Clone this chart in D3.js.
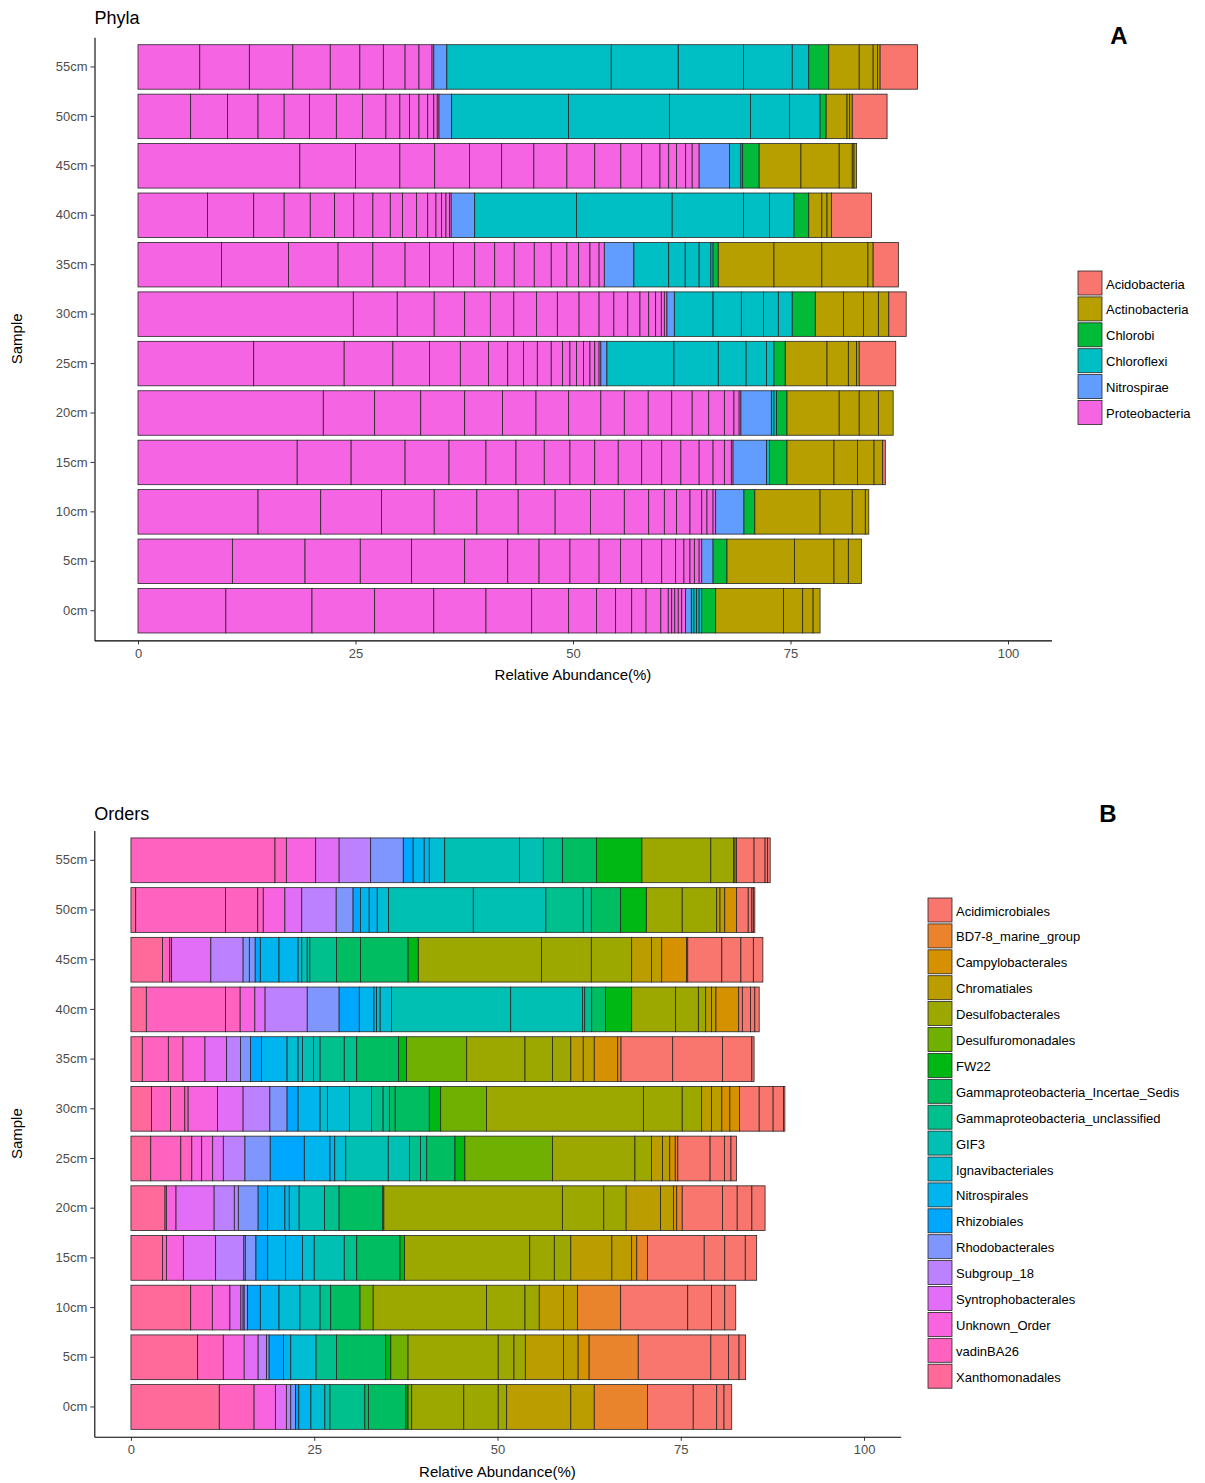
<!DOCTYPE html>
<html>
<head>
<meta charset="utf-8">
<script src="https://cdn.jsdelivr.net/npm/d3@7"></script>
<style>
  html, body { margin: 0; padding: 0; background: #fff; }
  svg { display: block; font-family: "Liberation Sans", Arial, sans-serif; }
</style>
</head>
<body>
<svg id="chart" width="1205" height="1483"></svg>
<script>
// ---------- shared categories ----------
const samples = ["0cm","5cm","10cm","15cm","20cm","25cm","30cm","35cm","40cm","45cm","50cm","55cm"];
const xTicks = [0, 25, 50, 75, 100];

// ---------- Panel A: phyla (each inner list = stacked sub-segments, % abundance) ----------
const phyla = ["Acidobacteria","Actinobacteria","Chlorobi","Chloroflexi","Nitrospirae","Proteobacteria"];

const proteobacteria = [
  [10.1, 9.9, 7.2, 6.8, 6.0, 5.25, 4.25, 3.2, 2.2, 1.85, 1.65, 1.7, 0.85, 0.4, 0.35, 0.4, 0.4, 0.45],
  [10.85, 8.35, 6.35, 5.9, 6.1, 4.95, 3.6, 3.55, 3.35, 2.45, 2.45, 2.3, 1.6, 0.95, 0.7, 0.5, 0.55, 0.3],
  [13.8, 7.2, 7.0, 6.05, 4.9, 4.75, 4.25, 4.05, 3.9, 2.8, 1.8, 1.4, 1.55, 1.35, 0.6, 0.7, 0.3],
  [18.3, 6.2, 6.2, 5.05, 4.25, 3.45, 3.25, 2.95, 2.85, 2.7, 2.7, 2.3, 2.2, 2.1, 1.6, 1.3, 0.8, 0.2],
  [21.3, 5.9, 5.3, 5.05, 4.35, 3.85, 3.75, 3.7, 2.7, 2.75, 2.7, 2.35, 1.9, 1.8, 1.1, 0.6, 0.2],
  [13.3, 10.4, 5.6, 4.2, 3.55, 3.25, 2.2, 1.8, 1.6, 1.6, 1.3, 0.85, 0.75, 0.8, 0.75, 0.55, 0.5, 0.2],
  [24.75, 5.05, 4.25, 3.5, 2.95, 2.7, 2.6, 2.4, 2.5, 2.3, 1.7, 1.6, 1.4, 1.0, 0.8, 0.65, 0.35, 0.3],
  [9.6, 7.7, 5.7, 4.0, 3.7, 2.8, 2.75, 2.45, 2.3, 2.25, 2.3, 1.95, 1.8, 1.35, 1.3, 1.05, 0.6],
  [8.0, 5.3, 3.5, 3.0, 2.8, 2.2, 2.2, 2.0, 1.4, 1.6, 1.3, 0.95, 0.65, 0.5, 0.4, 0.2],
  [18.6, 6.4, 5.1, 4.0, 4.0, 3.7, 3.7, 3.8, 3.2, 3.0, 2.4, 2.1, 1.0, 0.9, 1.05, 0.75, 0.8],
  [6.05, 4.25, 3.5, 3.0, 2.9, 3.1, 3.0, 2.7, 1.6, 1.1, 1.1, 1.0, 0.7, 0.4, 0.2],
  [7.1, 5.7, 5.0, 4.3, 3.4, 2.7, 2.5, 1.6, 1.5, 0.2]
];
const nitrospirae = [[0.65],[1.3],[3.25],[3.85],[3.5],[0.7],[0.85],[3.4],[2.7],[3.5],[1.45],[1.5]];
const chloroflexi = [
  [0.3,0.3,0.3,0.3],[],[],[0.35],[0.3,0.3],[7.7,5.1,3.2,2.35,0.85],[4.45,3.25,2.55,1.7,1.6],
  [4.0,1.9,1.6,1.35,0.25],[11.7,11.0,8.2,3.0,2.8],[1.3,0.2],[13.45,11.6,9.3,4.5,3.5],[18.9,7.7,7.5,5.6,1.9]
];
const chlorobi = [[1.6],[1.6],[1.25],[2.0],[1.2],[1.3],[2.65],[0.6],[1.7],[1.9],[0.7],[2.3]];
const actinobacteria = [
  [7.8,2.2,1.2,0.8],[7.75,4.55,1.65,1.5],[7.5,3.7,1.5,0.4],[5.4,2.7,1.9,1.0],[6.0,2.3,2.2,1.7],
  [4.8,2.45,0.95,0.3],[3.25,2.3,1.7,1.2],[6.4,5.5,5.3,0.6],[1.5,0.6,0.5],[4.8,4.4,1.5,0.2,0.3],
  [2.4,0.3,0.3],[3.5,1.6,0.5,0.3]
];
const acidobacteria = [[],[],[],[0.3],[],[4.2],[2.0],[2.9],[4.6],[],[4.0],[4.3]];

// ---------- Panel B: orders ----------
const orders = ["Acidimicrobiales","BD7-8_marine_group","Campylobacterales","Chromatiales","Desulfobacterales",
  "Desulfuromonadales","FW22","Gammaproteobacteria_Incertae_Sedis","Gammaproteobacteria_unclassified","GIF3",
  "Ignavibacteriales","Nitrospirales","Rhizobiales","Rhodobacterales","Subgroup_18","Syntrophobacterales",
  "Unknown_Order","vadinBA26","Xanthomonadales"];

const acidimicrobiales = [[6.25,3.2,1.0,1.05],[9.9,2.4,1.45,0.9],[9.15,3.25,1.8,1.5],[7.75,2.8,2.8,1.55],[5.5,2.0,2.0,1.8],[4.4,1.95,0.9,0.75],[2.7,1.9,1.4,0.2],[7.05,6.8,4.0,0.3],[0.5,1.1,0.6,0.6],[4.65,2.6,1.7,1.3],[1.6,0.5,0.2,0.2],[2.4,1.5,0.35,0.35]];
const bd78MarineGroup = [[7.25],[6.7],[5.9],[1.45],[0.75],[0.35],[],[0.45],[],[0.15],[],[0.2]];
const campylobacterales = [[],[1.5],[],[0.7],[0.45],[0.75],[1.1,1.3],[3.2],[3.1],[3.4],[1.6],[]];
const chromatiales = [[8.75,3.2],[5.2,2.0],[3.3,1.9],[5.6,2.7],[4.7,1.75],[1.5,1.0],[1.35,1.4],[1.7,1.5],[0.8,0.6],[2.7,1.4],[0.45,0.65],[0.2]];
const desulfobacterales = [[7.1,4.7,1.15],[12.3,2.15,1.55],[15.45,5.25,1.95],[17.1,3.35,2.25],[24.35,5.65,3.05],[11.25,2.25],[21.4,5.3,2.65],[7.95,3.75,2.5],[6.0,3.1,1.0],[16.8,6.8,5.5],[4.9,4.7],[9.4,3.1]];
const desulfuromonadales = [[0.5],[2.35],[1.8],[],[],[11.95],[6.25],[8.2],[],[],[],[]];
const fw22 = [[0.3],[0.7],[],[0.6],[0.15],[1.35],[1.55],[1.1],[3.55],[1.4],[3.5],[6.2]];
const gammaIncertaeSedis = [[0.5,5.1],[6.7],[4.0],[5.9],[5.95],[3.85],[0.8,4.65],[5.7],[1.9],[3.25,6.5],[4.0],[4.65]];
const gammaUnclassified = [[4.75],[2.8],[1.45],[1.7],[2.0],[1.5,0.85],[1.6,0.85],[3.3,1.7],[0.3,0.95],[3.65],[5.1,1.1],[2.6]];
const gif3 = [[0.7],[],[2.75],[4.1],[3.45],[5.8,2.9],[3.0],[1.5,0.9],[16.25,9.8],[0.75,0.35],[11.55,9.9],[10.2,3.25]];
const ignavibacteriales = [[1.9],[3.45],[2.85],[1.6],[1.35],[1.5],[1.0,3.0],[1.5,0.6],[0.5,1.55],[0.5],[1.55],[2.1]];
const nitrospirales = [[1.65],[1.0],[2.55],[2.45,2.3],[2.35,0.6],[3.5,0.65],[3.0],[3.5],[2.0,0.35],[2.55,2.6],[1.2,1.1],[1.5,0.7]];
const rhizobiales = [[0.45],[1.95],[1.75],[1.6],[1.3],[4.65],[1.5],[1.5],[2.75],[0.7],[1.0],[1.35]];
const rhodobacterales = [[0.65],[0.35],[0.15,0.45],[0.2,1.45],[2.7],[3.45],[2.35],[1.35],[4.35],[0.85,0.8],[2.3],[4.45]];
const subgroup18 = [[0.6],[1.15],[0.3],[3.85],[2.75,0.55],[2.95],[3.65],[1.9],[5.75],[4.4],[4.7],[4.3]];
const syntrophobacterales = [[1.5],[1.9],[1.5],[4.4],[5.2],[1.45],[3.5],[2.95],[1.4],[5.35],[2.3],[3.2]];
const unknownOrder = [[2.9],[2.85],[2.4],[2.3],[1.3],[1.35,1.5],[4.0],[3.0],[2.0],[],[2.95],[4.0]];
const vadinBA26 = [[4.75],[3.5],[2.95],[0.55],[0.2],[4.1,1.5],[2.6,1.95,0.45],[3.55,2.0],[10.8,2.0],[1.0,0.25],[12.25,4.4,0.75],[19.65,1.55]];
const xanthomonadales = [[12.05],[9.1],[8.15],[4.3],[4.65],[2.7],[2.8],[1.55],[2.1],[4.3],[0.65],[]];

const phylaValues = [acidobacteria, actinobacteria, chlorobi, chloroflexi, nitrospirae, proteobacteria];
const orderValues = [acidimicrobiales, bd78MarineGroup, campylobacterales, chromatiales, desulfobacterales,
  desulfuromonadales, fw22, gammaIncertaeSedis, gammaUnclassified, gif3, ignavibacteriales, nitrospirales,
  rhizobiales, rhodobacterales, subgroup18, syntrophobacterales, unknownOrder, vadinBA26, xanthomonadales];

// ---------- discrete hue palette in polar CIE-Luv (l = 65, c = 100) ----------
function hueColor(h) {
  const L = 65, C = 100, hr = h * Math.PI / 180;
  const u = C * Math.cos(hr), v = C * Math.sin(hr);
  const Xn = 95.047, Yn = 100, Zn = 108.883;
  const Y = Yn * Math.pow((L + 16) / 116, 3);
  const den = Xn + 15 * Yn + 3 * Zn, un = 4 * Xn / den, vn = 9 * Yn / den;
  const Q = u / (13 * L) + un, R = v / (13 * L) + vn;
  const X = 9 * Y * Q / (4 * R), Z = -X / 3 - 5 * Y + 3 * Y / R;
  const lin = [
    ( 3.240479 * X - 1.537150 * Y - 0.498535 * Z) / Yn,
    (-0.969256 * X + 1.875992 * Y + 0.041556 * Z) / Yn,
    ( 0.055648 * X - 0.204043 * Y + 1.057311 * Z) / Yn
  ];
  const gam = t => t > 0.00304 ? 1.055 * Math.pow(t, 1 / 2.4) - 0.055 : 12.92 * t;
  const c = lin.map(t => Math.max(0, Math.min(255, Math.round(255 * gam(t)))));
  return d3.rgb(c[0], c[1], c[2]).formatHex();
}
function huePalette(n) {
  return d3.range(n).map(i => hueColor(15 + i * 360 / n));
}

const svg = d3.select("#chart");

function drawPanel(cfg) {
  const x = d3.scaleLinear().domain([-5, 105]).range([cfg.left, cfg.right]);
  const y = d3.scaleBand().domain(samples.slice().reverse())
    .range([cfg.top, cfg.bottom]).paddingInner(0.1).paddingOuter(0.15);
  const color = d3.scaleOrdinal().domain(cfg.cats).range(huePalette(cfg.cats.length));

  // stack: last category sits at the baseline, first category at the far end
  const segs = [];
  samples.forEach((s, i) => {
    let acc = 0;
    for (let k = cfg.cats.length - 1; k >= 0; k--) {
      cfg.values[k][i].forEach(v => {
        segs.push({ sample: s, cat: cfg.cats[k], x0: acc, x1: acc + v });
        acc += v;
      });
    }
  });

  const g = svg.append("g");
  g.selectAll("rect.seg").data(segs).join("rect")
    .attr("class", "seg")
    .attr("x", d => x(d.x0))
    .attr("width", d => x(d.x1) - x(d.x0))
    .attr("y", d => y(d.sample))
    .attr("height", y.bandwidth())
    .attr("fill", d => color(d.cat))
    .attr("stroke", "#262626")
    .attr("stroke-width", 0.8);

  // axes
  const yAxis = g.append("g").attr("transform", `translate(${cfg.left},0)`)
    .call(d3.axisLeft(y).tickSize(4).tickSizeOuter(0).tickPadding(3));
  const xAxis = g.append("g").attr("transform", `translate(0,${cfg.bottom})`)
    .call(d3.axisBottom(x).tickValues(xTicks).tickFormat(d3.format("d")).tickSize(4).tickSizeOuter(0).tickPadding(4));
  [yAxis, xAxis].forEach(a => {
    a.select(".domain").attr("stroke", "#000").attr("stroke-width", 1.1);
    a.selectAll(".tick line").attr("stroke", "#333");
    a.selectAll(".tick text").attr("fill", "#4d4d4d").style("font-size", "13px")
      .style("font-family", "'Liberation Sans', Arial, sans-serif");
  });

  // titles
  svg.append("text").attr("x", cfg.left).attr("y", cfg.titleY)
    .style("font-size", "18px").attr("fill", "#000").text(cfg.title);
  svg.append("text").attr("x", cfg.tagX).attr("y", cfg.tagY).attr("text-anchor", "middle")
    .style("font-size", "24px").style("font-weight", "bold").attr("fill", "#000").text(cfg.tag);
  svg.append("text").attr("x", (cfg.left + cfg.right) / 2).attr("y", cfg.bottom + 40)
    .attr("text-anchor", "middle").style("font-size", "15px").attr("fill", "#000")
    .text("Relative Abundance(%)");
  svg.append("text")
    .attr("transform", `translate(22,${(cfg.top + cfg.bottom) / 2}) rotate(-90)`)
    .attr("text-anchor", "middle").style("font-size", "15px").attr("fill", "#000").text("Sample");

  // legend
  const lg = svg.append("g").attr("transform", `translate(${cfg.legX},${cfg.legY})`);
  const items = lg.selectAll("g").data(cfg.cats).join("g")
    .attr("transform", (d, i) => `translate(0,${i * cfg.legStep})`);
  items.append("rect").attr("width", 24).attr("height", 24)
    .attr("fill", d => color(d)).attr("stroke", "#262626").attr("stroke-width", 0.8);
  items.append("text").attr("x", 28).attr("y", 13).attr("dy", "0.35em")
    .style("font-size", "13px").attr("fill", "#000").text(d => d);
}

drawPanel({
  cats: phyla, values: phylaValues,
  left: 94.5, right: 1051.5, top: 37.3, bottom: 640.4,
  title: "Phyla", titleY: 24, tag: "A", tagX: 1119, tagY: 44,
  legX: 1078, legY: 271, legStep: 25.9
});

drawPanel({
  cats: orders, values: orderValues,
  left: 94.3, right: 900.7, top: 830.5, bottom: 1436.8,
  title: "Orders", titleY: 820, tag: "B", tagX: 1108, tagY: 822,
  legX: 928, legY: 898, legStep: 25.9
});
</script>
</body>
</html>
